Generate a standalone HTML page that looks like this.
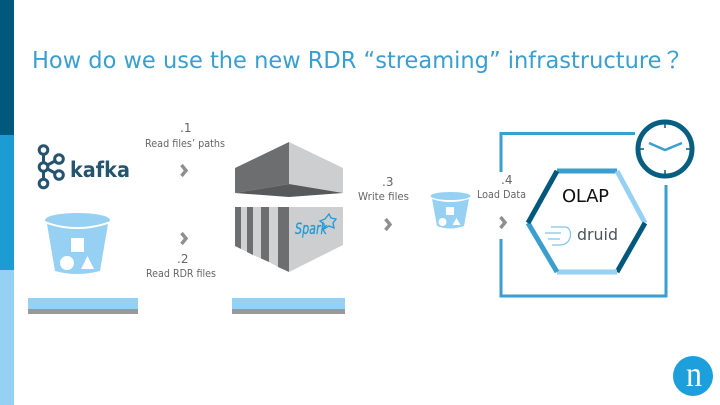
<!DOCTYPE html>
<html><head><meta charset="utf-8"><style>
html,body{margin:0;padding:0;background:#fff;width:720px;height:405px;overflow:hidden}
svg{display:block}
text{font-family:"DejaVu Sans","Noto Sans CJK JP",sans-serif}
.l{font-size:10.5px;fill:#666}
.n{font-size:12px;fill:#666}
</style></head><body>
<svg width="720" height="405" viewBox="0 0 720 405" xmlns="http://www.w3.org/2000/svg">
<rect width="720" height="405" fill="#fff"/>
<!-- left bar -->
<rect x="0" y="0" width="14" height="135" fill="#00597c"/>
<rect x="0" y="135" width="14" height="135" fill="#1d9cd3"/>
<rect x="0" y="270" width="14" height="135" fill="#96d1f3"/>
<!-- title -->
<text x="32" y="68" font-size="23" fill="#3a9fcf" textLength="652" lengthAdjust="spacingAndGlyphs">How do we use the new RDR “streaming” infrastructure？</text>
<!-- labels -->
<text class="n" x="180" y="132">.1</text>
<text class="l" x="145" y="147" textLength="80" lengthAdjust="spacingAndGlyphs">Read files’ paths</text>
<text class="n" x="177" y="263">.2</text>
<text class="l" x="146" y="277" textLength="70" lengthAdjust="spacingAndGlyphs">Read RDR files</text>
<text class="n" x="382" y="186">.3</text>
<text class="l" x="358" y="200" textLength="51" lengthAdjust="spacingAndGlyphs">Write files</text>
<text class="n" x="501" y="184">.4</text>
<text class="l" x="477" y="198" textLength="49" lengthAdjust="spacingAndGlyphs">Load Data</text>
<!-- chevrons -->
<g fill="none" stroke="#8f8f8f" stroke-width="3.4">
<path d="M181.500 165l4.500 5.500l-4.500 5.500"/>
<path d="M181.500 233l4.500 5.500l-4.500 5.500"/>
<path d="M385.500 219l4.500 5.500l-4.500 5.500"/>
<path d="M500.500 217l4.500 5.500l-4.500 5.500"/>
</g>
<!-- kafka -->
<g fill="none" stroke="#24546f" stroke-width="3">
<circle cx="43.500" cy="150" r="4.300"/>
<circle cx="43.500" cy="167" r="4.300"/>
<circle cx="43.500" cy="183.500" r="4.300"/>
<circle cx="59" cy="159" r="4.300"/>
<circle cx="59" cy="175" r="4.300"/>
<path d="M43.500 154v9M43.500 171v9M47.500 165l7.500-4M47.500 169l7.500 4"/>
</g>
<text x="70" y="177" font-size="21" font-weight="bold" fill="#24546f" textLength="60" lengthAdjust="spacingAndGlyphs">kafka</text>
<!-- large bucket -->
<path d="M47 224L55 271Q77 277 100 271L108 224Q77 234 47 224Z" fill="#96d1f3"/>
<ellipse cx="77.500" cy="220" rx="32.500" ry="7" fill="#96d1f3"/>
<path d="M45 222Q77 234 110 222" fill="none" stroke="#fff" stroke-width="1.500"/>
<rect x="71" y="238" width="13" height="14" fill="#fff"/>
<circle cx="67" cy="263" r="7" fill="#fff"/>
<path d="M87.500 256l6.500 13h-13z" fill="#fff"/>
<!-- bars -->
<rect x="28" y="298" width="110" height="11" fill="#96d1f3"/>
<rect x="28" y="309" width="110" height="5" fill="#999"/>
<rect x="232" y="298" width="113" height="11" fill="#96d1f3"/>
<rect x="232" y="309" width="113" height="5" fill="#999"/>
<!-- spark -->
<path d="M235 168L289 142V184L235 193Z" fill="#6d6e70"/>
<path d="M289 142L343 168V193L289 184Z" fill="#cdcecf"/>
<path d="M235 193L289 184L343 193L289 197Z" fill="#58595b"/>
<path d="M235 207h6v42l-6-3z" fill="#6d6e70"/>
<path d="M241 207h6v45l-6-3z" fill="#d0d1d2"/>
<path d="M247 207h6v48l-6-3z" fill="#6d6e70"/>
<path d="M253 207h8v51.500l-8-3.500z" fill="#d0d1d2"/>
<path d="M261 207h8v55l-8-3.500z" fill="#6d6e70"/>
<path d="M269 207h9v60l-9-5z" fill="#d0d1d2"/>
<path d="M278 207h11v65l-11-5z" fill="#6d6e70"/>
<path d="M289 207h54v38l-54 27z" fill="#cdcecf"/>
<text x="295" y="234" font-size="16" font-style="italic" fill="#1f9ad6" stroke="#1f9ad6" stroke-width="0.300" textLength="32" lengthAdjust="spacingAndGlyphs">Spark</text>
<path d="M329 214l2 4l5 1l-3 4l1 5l-5-2l-5 3l0-5l-4-3l5-2z" fill="none" stroke="#1f9ad6" stroke-width="1.300"/>
<!-- small bucket -->
<path d="M432 199L437 226Q450 231 464 226L469 199Q450 205 432 199Z" fill="#96d1f3"/>
<ellipse cx="450.500" cy="196" rx="20" ry="4" fill="#96d1f3"/>
<rect x="446" y="207" width="8" height="8" fill="#fff"/>
<circle cx="442.500" cy="222" r="4" fill="#fff"/>
<path d="M456.500 218l4 7h-8z" fill="#fff"/>
<!-- OLAP frame -->
<path d="M501 172V133.500H635M666 185V296H501V239" fill="none" stroke="#3a9fcf" stroke-width="3"/>
<!-- hexagon -->
<g fill="none" stroke-width="5">
<path d="M557 171H617" stroke="#3a9fcf"/>
<path d="M617 171L645 223" stroke="#96d1f3"/>
<path d="M645 223L617 272" stroke="#00597c"/>
<path d="M617 272H557" stroke="#96d1f3"/>
<path d="M557 272L528 223" stroke="#3a9fcf"/>
<path d="M528 223L557 171" stroke="#00597c"/>
</g>
<text x="562" y="202" font-size="18" fill="#111" textLength="47" lengthAdjust="spacing">OLAP</text>
<!-- druid -->
<g fill="none" stroke="#7fc4e8" stroke-width="1.200">
<path d="M551 227h14c8 0 8 18 -5 18h-8M545 233h16M548 239h12"/>
</g>
<text x="577" y="240" font-size="16" fill="#4c5560" textLength="41" lengthAdjust="spacingAndGlyphs">druid</text>
<!-- clock -->
<circle cx="665" cy="149" r="27" fill="#fff" stroke="#065f80" stroke-width="5"/>
<g stroke="#065f80" stroke-width="1.500">
<path d="M665 122v6M665 170v6M638 149h6M686 149h6"/>
</g>
<path d="M649 143L665 150L682 143" fill="none" stroke="#3a9fcf" stroke-width="2.500"/>
<!-- logo -->
<circle cx="693" cy="376" r="20" fill="#1d9fdc"/>
<text x="694" y="386" font-size="36" fill="#fff" text-anchor="middle" textLength="16" lengthAdjust="spacingAndGlyphs" style="font-family:'Liberation Serif',serif">n</text>
</svg>
</body></html>
